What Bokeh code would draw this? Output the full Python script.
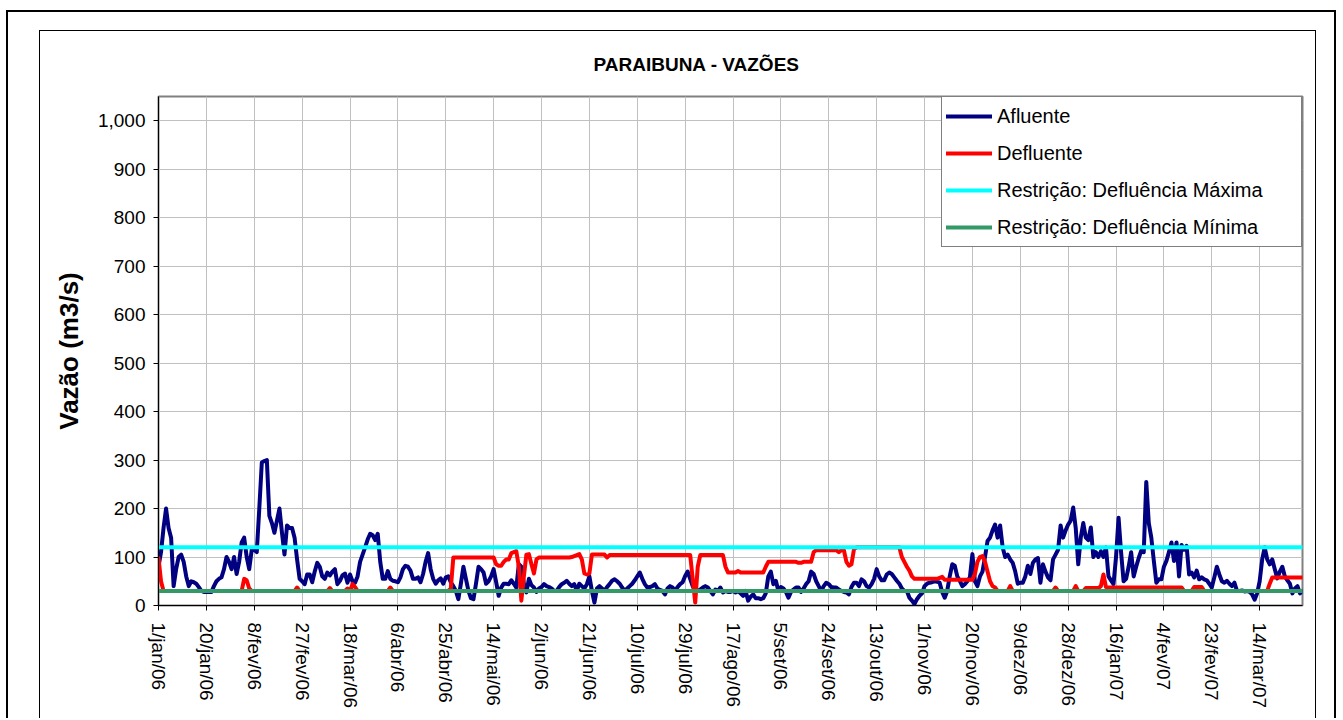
import math
from datetime import date
from bokeh.plotting import figure
from bokeh.models import (ColumnDataSource, Range1d, FixedTicker, NumeralTickFormatter,
                          Legend, LegendItem)
from bokeh.layouts import column
from bokeh.embed import file_html
from bokeh.resources import INLINE

# ---------------- data ----------------
titulo = "PARAIBUNA - VAZÕES"
rotulo_y = "Vazão (m3/s)"
data_inicial = date(2006, 1, 1)

rotulos_x = ["1/jan/06", "20/jan/06", "8/fev/06", "27/fev/06", "18/mar/06", "6/abr/06",
             "25/abr/06", "14/mai/06", "2/jun/06", "21/jun/06", "10/jul/06", "29/jul/06",
             "17/ago/06", "5/set/06", "24/set/06", "13/out/06", "1/nov/06", "20/nov/06",
             "9/dez/06", "28/dez/06", "16/jan/07", "4/fev/07", "23/fev/07", "14/mar/07"]
meses = {"jan": 1, "fev": 2, "mar": 3, "abr": 4, "mai": 5, "jun": 6,
         "jul": 7, "ago": 8, "set": 9, "out": 10, "nov": 11, "dez": 12}
ticks_y = [0, 100, 200, 300, 400, 500, 600, 700, 800, 900, 1000]

series_nomes = ["Afluente", "Defluente", "Restrição: Defluência Máxima", "Restrição: Defluência Mínima"]
series_cores = ["#000080", "#FF0000", "#00FFFF", "#339966"]

# daily values from 1/jan/06 (m3/s)
afluente = [
    80, 110, 160, 200, 160, 140, 40, 75, 100, 105,
    90, 60, 40, 50, 48, 45, 38, 30, 28, 28,
    28, 28, 40, 50, 55, 58, 75, 100, 90, 75,
    100, 65, 90, 130, 140, 100, 75, 115, 115, 110,
    200, 295, 298, 300, 185, 170, 150, 175, 200, 150,
    105, 165, 160, 160, 140, 95, 55, 50, 44, 64,
    64, 48, 70, 88, 80, 60, 55, 68, 62, 70,
    75, 44, 51, 62, 66, 47, 64, 50, 47, 60,
    90, 105, 120, 136, 148, 145, 135, 148, 90, 55,
    55, 71, 55, 51, 50, 48, 58, 75, 82, 80,
    72, 55, 55, 58, 48, 65, 90, 108, 75, 55,
    45, 52, 56, 45, 58, 60, 48, 40, 30, 13,
    45, 80, 55, 30, 15, 13, 45, 80, 75, 68,
    45, 50, 60, 75, 48, 20, 37, 45, 45, 44,
    52, 45, 37, 85, 80, 45, 27, 55, 42, 37,
    28, 35, 38, 44, 40, 38, 35, 30, 30, 38,
    44, 47, 51, 45, 40, 44, 30, 45, 40, 35,
    44, 60, 30, 6, 35, 40, 35, 30, 38, 44,
    51, 54, 50, 45, 37, 30, 35, 40, 45, 52,
    60, 68, 55, 44, 37, 38, 40, 44, 35, 32,
    30, 23, 35, 40, 37, 30, 38, 44, 48, 61,
    70, 55, 40, 30, 30, 33, 37, 40, 37, 30,
    23, 33, 30, 37, 27, 30, 28, 28, 30, 27,
    30, 25, 20, 30, 10, 18, 23, 15, 15, 13,
    15, 25, 60, 70, 44, 51, 30, 38, 35, 28,
    16, 28, 33, 37, 37, 28, 35, 44, 50, 70,
    65, 50, 40, 30, 40, 47, 44, 38, 37, 37,
    33, 30, 28, 27, 23, 38, 47, 47, 40, 54,
    50, 40, 37, 44, 55, 75, 60, 52, 52, 64,
    68, 65, 58, 51, 45, 35, 30, 30, 16, 10,
    3, 13, 20, 25, 40, 45, 47, 48, 50, 49,
    47, 28, 16, 30, 60, 85, 82, 60, 51, 40,
    44, 50, 58, 106, 50, 40, 60, 70, 100, 133,
    140, 155, 167, 140, 165, 120, 100, 105, 95, 88,
    70, 45, 47, 47, 60, 82, 65, 88, 95, 98,
    47, 85, 70, 58, 52, 95, 105, 115, 165, 140,
    155, 167, 175, 202, 160, 85, 140, 170, 140, 135,
    161, 100, 110, 100, 112, 100, 120, 60, 52, 44,
    100, 181, 110, 50, 55, 80, 110, 60, 80, 98,
    113, 110, 255, 170, 140, 92, 47, 54, 54, 80,
    92, 110, 130, 92, 130, 60, 125, 115, 123, 64,
    68, 58, 72, 54, 58, 54, 52, 45, 37, 58,
    80, 64, 50, 47, 51, 45, 40, 47, 30, 30,
    31, 29, 30, 28, 23, 12, 25, 50, 95, 120,
    95, 85, 95, 75, 56, 70, 80, 60, 52, 45,
    25, 35, 40, 25, 30,
]

defluente = [
    98, 50, 30, 30, 30, 30, 30, 30, 30, 30,
    30, 30, 30, 30, 30, 30, 30, 30, 30, 30,
    30, 30, 30, 30, 30, 30, 30, 30, 30, 30,
    30, 30, 30, 30, 55, 52, 35, 30, 30, 30,
    30, 30, 30, 30, 30, 30, 30, 30, 30, 30,
    30, 30, 30, 30, 30, 37, 30, 30, 30, 30,
    30, 30, 30, 30, 30, 30, 30, 30, 36, 30,
    30, 30, 30, 30, 30, 35, 30, 44, 38, 30,
    30, 30, 30, 30, 30, 30, 30, 30, 30, 30,
    30, 30, 37, 30, 30, 30, 30, 30, 30, 30,
    30, 30, 30, 30, 30, 30, 30, 30, 30, 30,
    30, 30, 30, 30, 30, 30, 35, 99, 99, 99,
    99, 99, 99, 99, 99, 99, 99, 99, 99, 99,
    99, 99, 99, 99, 85, 82, 82, 90, 95, 95,
    108, 110, 112, 80, 10, 60, 105, 106, 85, 66,
    95, 99, 99, 99, 99, 99, 99, 99, 99, 99,
    99, 99, 99, 99, 100, 102, 104, 106, 95, 66,
    64, 66, 105, 105, 105, 105, 105, 105, 99, 104,
    104, 104, 104, 104, 104, 104, 104, 104, 104, 104,
    104, 104, 104, 104, 104, 104, 104, 104, 104, 104,
    104, 104, 104, 104, 104, 104, 104, 104, 104, 104,
    104, 104, 55, 6, 80, 104, 104, 104, 104, 104,
    104, 104, 104, 104, 104, 80, 68, 68, 68, 68,
    71, 68, 68, 68, 68, 68, 68, 68, 68, 68,
    68, 80, 90, 90, 90, 90, 90, 90, 90, 90,
    90, 90, 90, 90, 88, 88, 90, 90, 90, 90,
    110, 114, 114, 114, 114, 114, 114, 114, 114, 114,
    110, 114, 114, 90, 82, 85, 116, 120, 120, 120,
    120, 120, 120, 120, 120, 120, 120, 120, 120, 120,
    120, 120, 120, 120, 120, 100, 90, 80, 72, 60,
    55, 55, 55, 55, 55, 55, 55, 55, 55, 55,
    57, 59, 53, 53, 53, 53, 53, 53, 53, 53,
    53, 53, 53, 53, 65, 90, 100, 102, 90, 70,
    50, 40, 37, 30, 30, 30, 30, 30, 40, 30,
    30, 30, 30, 30, 30, 30, 30, 30, 30, 30,
    30, 30, 30, 30, 30, 30, 37, 30, 30, 30,
    30, 30, 30, 30, 40, 30, 30, 30, 36, 36,
    36, 36, 36, 36, 40, 64, 38, 37, 37, 37,
    37, 37, 37, 37, 37, 37, 37, 37, 37, 37,
    37, 37, 37, 37, 37, 37, 37, 37, 37, 37,
    37, 37, 37, 37, 37, 37, 37, 30, 30, 30,
    30, 38, 38, 38, 38, 30, 30, 30, 30, 30,
    30, 30, 30, 30, 30, 30, 30, 30, 30, 30,
    30, 30, 30, 30, 30, 30, 30, 30, 30, 30,
    30, 45, 58, 58, 58, 58, 58, 58, 58, 58,
    58, 58, 58, 58, 58,
]

defluencia_maxima = 120
defluencia_minima = 30

# ---------------- chart ----------------
FONT = "Liberation Sans"


def dia(rotulo):
    d, m, a = rotulo.split("/")
    return (date(2000 + int(a), meses[m], int(d)) - data_inicial).days


n = len(afluente)
valores = [afluente, defluente[:n],
           [defluencia_maxima] * n, [defluencia_minima] * n]

p = figure(width=1277, height=688,
           x_range=Range1d(0, n - 1), y_range=Range1d(0, 1050),
           output_backend="svg", toolbar_location=None,
           min_border_left=118, min_border_right=15,
           min_border_top=65, min_border_bottom=114,
           margin=(18, 18, 0, 31),
           styles={"border": "1px solid black", "border-bottom": "none"},
           background_fill_color="white", border_fill_color="white",
           outline_line_color="#808080", outline_line_width=2)

itens = []
for nome, cor, ys in zip(series_nomes, series_cores, valores):
    src = ColumnDataSource(dict(x=list(range(len(ys))), y=ys))
    r = p.line("x", "y", source=src, line_color=cor, line_width=4,
               line_join="round", line_cap="round")
    itens.append(LegendItem(label=nome, renderers=[r]))

eixo_x = p.below[0]
eixo_y = p.left[0]

# chart title
p.title.text = titulo
p.title.align = "left"
p.title.offset = 435
p.title.vertical_align = "top"
p.title.standoff = 40
p.title.text_font = FONT
p.title.text_font_size = "19px"
p.title.text_font_style = "bold"
p.title.text_color = "black"

# axes
xt = [dia(r) for r in rotulos_x]
eixo_x.ticker = FixedTicker(ticks=xt)
eixo_x.major_label_overrides = {d: r for d, r in zip(xt, rotulos_x)}
eixo_x.major_label_orientation = -math.pi / 2
eixo_x.major_label_standoff = 12
eixo_y.ticker = FixedTicker(ticks=ticks_y)
eixo_y.formatter = NumeralTickFormatter(format="0,0")
eixo_y.axis_label = rotulo_y
eixo_y.axis_label_text_font = FONT
eixo_y.axis_label_text_font_size = "26px"
eixo_y.axis_label_text_font_style = "bold"
eixo_y.axis_label_text_color = "black"
eixo_y.axis_label_standoff = 11
eixo_y.major_label_standoff = 8
for ax in (eixo_x, eixo_y):
    ax.axis_line_color = "black"
    ax.axis_line_width = 1
    ax.major_tick_line_color = "black"
    ax.major_tick_out = 5
    ax.major_tick_in = 0
    ax.minor_tick_line_color = None
    ax.major_label_text_font = FONT
    ax.major_label_text_font_size = "19px"
    ax.major_label_text_color = "black"

p.xgrid.grid_line_color = "#c0c0c0"
p.ygrid.grid_line_color = "#c0c0c0"
p.xgrid.ticker = FixedTicker(ticks=xt)
p.ygrid.ticker = FixedTicker(ticks=ticks_y)

legend = Legend(items=itens, location="top_right", margin=0, padding=4, spacing=7,
                glyph_width=46, glyph_height=30, label_height=30, label_width=300,
                label_standoff=5, border_line_color="black", border_line_width=1,
                background_fill_color="white", background_fill_alpha=1.0,
                label_text_font=FONT, label_text_font_size="20px",
                label_text_color="black")
p.add_layout(legend)

layout = column(p, margin=(10, 0, 0, 6),
                styles={"border": "2px solid black", "border-bottom": "none"})

open("out.html", "w").write(file_html(layout, INLINE))
